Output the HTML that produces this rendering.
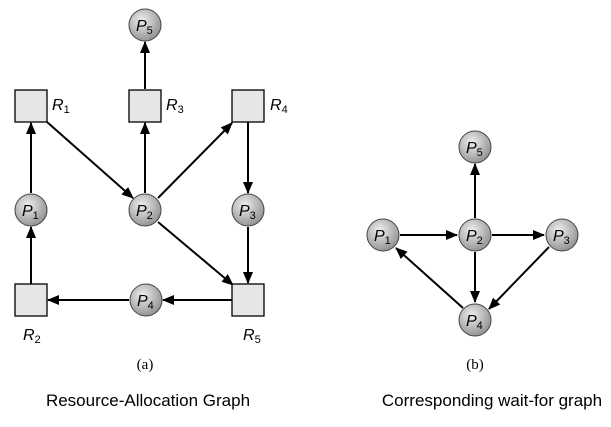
<!DOCTYPE html>
<html><head><style>body{margin:0;background:#fff}svg{display:block}</style></head><body>
<svg width="611" height="427" viewBox="0 0 611 427" xmlns="http://www.w3.org/2000/svg" font-family="Liberation Sans, sans-serif">
<defs>
<radialGradient id="g" cx="0.4" cy="0.35" r="0.7"><stop offset="0" stop-color="#eeeeee"/><stop offset="1" stop-color="#8e8e8e"/></radialGradient>
<marker id="a" markerWidth="12" markerHeight="10" refX="11" refY="5" orient="auto" markerUnits="userSpaceOnUse"><path d="M0,0 L12,5 L0,10 z" fill="#000"/></marker>
</defs>
<g stroke="#000" stroke-width="2" marker-end="url(#a)">
<line x1="145" y1="89" x2="145" y2="42"/>
<line x1="31" y1="193" x2="31" y2="123"/>
<line x1="47" y1="122" x2="133" y2="198"/>
<line x1="145" y1="193" x2="145" y2="123"/>
<line x1="158" y1="198" x2="232" y2="123"/>
<line x1="248" y1="122" x2="248" y2="193"/>
<line x1="31" y1="284" x2="31" y2="227"/>
<line x1="158" y1="222" x2="233" y2="285"/>
<line x1="248" y1="227" x2="248" y2="283"/>
<line x1="232" y1="300" x2="163" y2="300"/>
<line x1="129" y1="300" x2="48" y2="300"/>
<line x1="475" y1="218" x2="475" y2="164"/>
<line x1="400" y1="235" x2="457" y2="235"/>
<line x1="492" y1="235" x2="544" y2="235"/>
<line x1="475" y1="252" x2="475" y2="302"/>
<line x1="549" y1="247" x2="489" y2="309"/>
<line x1="463" y1="308" x2="396" y2="248"/>
</g>
<g fill="#e6e6e6" stroke="#000" stroke-width="1.3">
<rect x="15" y="90" width="32" height="32"/><rect x="129" y="90" width="32" height="32"/><rect x="232" y="90" width="32" height="32"/>
<rect x="15" y="284" width="32" height="32"/><rect x="232" y="284" width="32" height="32"/>
</g>
<g fill="url(#g)" stroke="#444" stroke-width="1">
<circle cx="145" cy="25" r="16"/><circle cx="31" cy="210" r="16"/><circle cx="145" cy="210" r="16"/><circle cx="248" cy="210" r="16"/><circle cx="146" cy="300" r="16"/>
<circle cx="475" cy="147" r="16"/><circle cx="383" cy="235" r="16"/><circle cx="475" cy="235" r="16"/><circle cx="562" cy="235" r="16"/><circle cx="475" cy="320" r="16"/>
</g>
<g font-size="16" font-style="italic" fill="#000">
<text x="136" y="31">P<tspan font-size="11" font-style="normal" dy="3">5</tspan></text>
<text x="22" y="216">P<tspan font-size="11" font-style="normal" dy="3">1</tspan></text>
<text x="136" y="216">P<tspan font-size="11" font-style="normal" dy="3">2</tspan></text>
<text x="239" y="216">P<tspan font-size="11" font-style="normal" dy="3">3</tspan></text>
<text x="137" y="306">P<tspan font-size="11" font-style="normal" dy="3">4</tspan></text>
<text x="466" y="153">P<tspan font-size="11" font-style="normal" dy="3">5</tspan></text>
<text x="374" y="241">P<tspan font-size="11" font-style="normal" dy="3">1</tspan></text>
<text x="466" y="241">P<tspan font-size="11" font-style="normal" dy="3">2</tspan></text>
<text x="553" y="241">P<tspan font-size="11" font-style="normal" dy="3">3</tspan></text>
<text x="466" y="326">P<tspan font-size="11" font-style="normal" dy="3">4</tspan></text>
<text x="52" y="110">R<tspan font-size="11" font-style="normal" dy="3">1</tspan></text>
<text x="166" y="110">R<tspan font-size="11" font-style="normal" dy="3">3</tspan></text>
<text x="270" y="110">R<tspan font-size="11" font-style="normal" dy="3">4</tspan></text>
<text x="23" y="340">R<tspan font-size="11" font-style="normal" dy="3">2</tspan></text>
<text x="243" y="340">R<tspan font-size="11" font-style="normal" dy="3">5</tspan></text>
</g>
<text x="145" y="369" font-size="15" text-anchor="middle" font-family="Liberation Serif, serif">(a)</text>
<text x="475" y="369" font-size="15" text-anchor="middle" font-family="Liberation Serif, serif">(b)</text>
<text x="148" y="406" font-size="17" text-anchor="middle">Resource-Allocation Graph</text>
<text x="492" y="406" font-size="17" text-anchor="middle">Corresponding wait-for graph</text>
</svg>
</body></html>
